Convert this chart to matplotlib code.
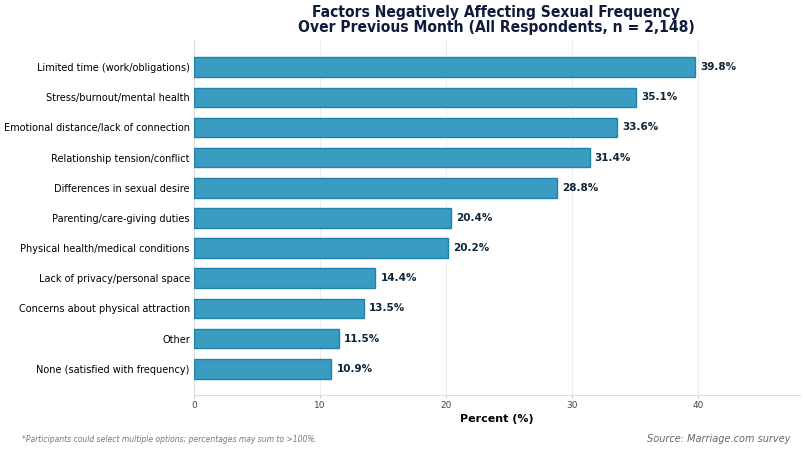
import matplotlib
matplotlib.use("Agg")
import matplotlib.pyplot as plt
from matplotlib import font_manager as fm

categories = [
    "Limited time (work/obligations)",
    "Stress/burnout/mental health",
    "Emotional distance/lack of connection",
    "Relationship tension/conflict",
    "Differences in sexual desire",
    "Parenting/care-giving duties",
    "Physical health/medical conditions",
    "Lack of privacy/personal space",
    "Concerns about physical attraction",
    "Other",
    "None (satisfied with frequency)",
]
values = [39.8, 35.1, 33.6, 31.4, 28.8, 20.4, 20.2, 14.4, 13.5, 11.5, 10.9]
xticks = [0, 10, 20, 30, 40]

plt.rcParams['font.family'] = ['DejaVu Sans']
fig = plt.figure(figsize=(8.04, 4.5), dpi=100)
ax = fig.add_axes([194/804, 1-395/450, (800-194)/804, (395-40)/450])

y = list(range(len(categories)))
ax.barh(y, values, height=0.65, color="#3a9cc1", edgecolor="#1f82ab", linewidth=1.0, zorder=3)
for yi, v in zip(y, values):
    ax.text(v + 0.4, yi, f"{v:.1f}%", va="center", ha="left", fontsize=7.5, fontweight="bold", color="#0d2538")

ax.set_yticks(y)
ax.set_yticklabels(categories, fontsize=7)
ax.set_ylim(len(categories) - 1 + 0.87, -0.9)
ax.set_xlim(0, 48.1)
ax.set_xticks(xticks)
ax.set_xticklabels([str(t) for t in xticks], fontsize=6.5, color="#444444")
ax.tick_params(axis="y", length=0, pad=3)
ax.tick_params(axis="x", length=2.5, color="#cccccc", pad=1.5)
ax.grid(axis="x", color="#eeeeee", linewidth=0.8, zorder=0)
for s in ["top", "right"]:
    ax.spines[s].set_visible(False)
for s in ["left", "bottom"]:
    ax.spines[s].set_color("#dddddd")
ax.set_xlabel("Percent (%)", fontsize=8, fontweight="bold", labelpad=3)

names = {f.name for f in fm.fontManager.ttflist}
cond = "DejaVu Sans Condensed" if "DejaVu Sans Condensed" in names else None
tkw = dict(ha="center", va="center", fontsize=11.2, fontweight="bold", color="#0f1b3d", linespacing=1.0)
if cond:
    tkw["family"] = cond
else:
    tkw["stretch"] = "condensed"
fig.text(0.617, 0.955, "Factors Negatively Affecting Sexual Frequency\nOver Previous Month (All Respondents, n = 2,148)", **tkw)
fig.text(22/804, 1-440/450, "*Participants could select multiple options; percentages may sum to >100%.",
         fontsize=5.5, style="italic", color="#777777", va="center")
fig.text(790/804, 1-439/450, "Source: Marriage.com survey", fontsize=7, style="italic", color="#666666",
         ha="right", va="center")

fig.savefig("out.png", dpi=100)
